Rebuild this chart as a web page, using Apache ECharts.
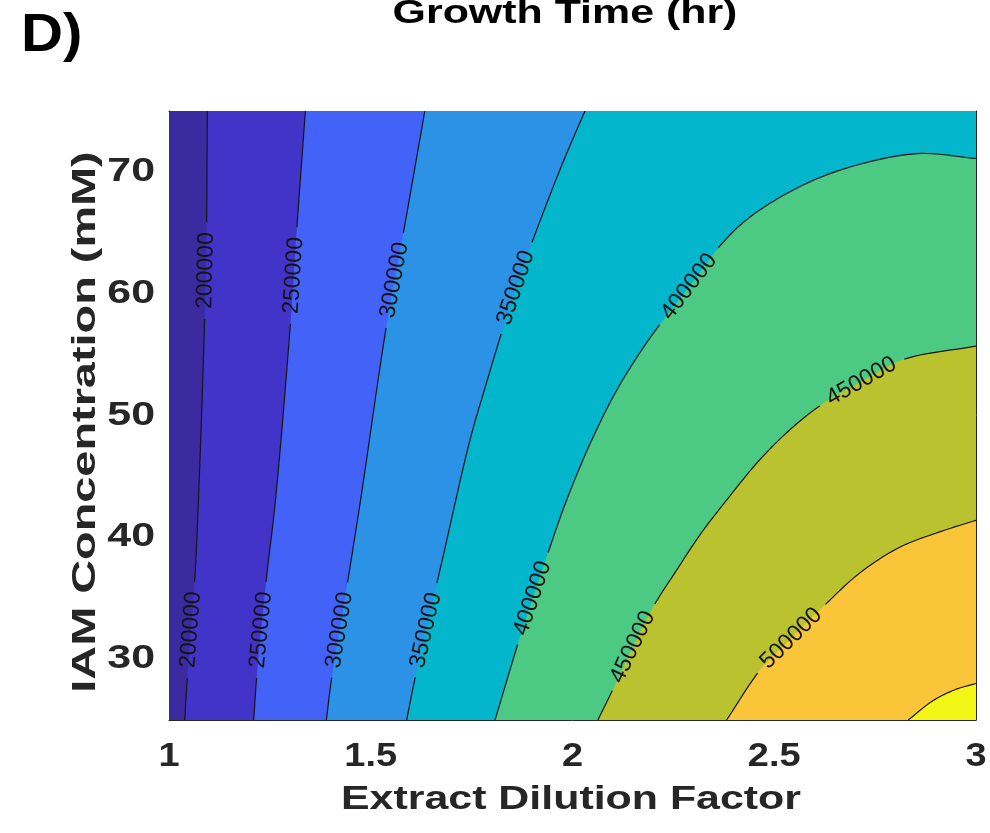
<!DOCTYPE html>
<html>
<head>
<meta charset="utf-8">
<title>Growth Time (hr)</title>
<script src="https://cdn.jsdelivr.net/npm/echarts@6/dist/echarts.min.js"></script>
<style>
  html, body { margin: 0; padding: 0; background: #ffffff; }
  #chart { width: 990px; height: 833px; }
</style>
</head>
<body>
<div id="chart"></div>
<script>
// ---- data ---------------------------------------------------------------
const xTicks = [1, 1.5, 2, 2.5, 3];
const yTicks = [30, 40, 50, 60, 70];
const levels = [200000, 250000, 300000, 350000, 400000, 450000, 500000, 550000];

// iso-lines as [dilution factor, IAM mM] points
const iso200k = [[1.095, 75], [1.093, 65.5], [1.088, 57.6], [1.073, 43.1], [1.065, 37.2], [1.045, 28.3], [1.039, 25]];
const iso250k = [[1.338, 75], [1.316, 65.0], [1.301, 57.6], [1.264, 43.1], [1.241, 36.5], [1.217, 28.4], [1.210, 25]];
const iso300k = [[1.634, 75], [1.582, 65.2], [1.540, 57.6], [1.475, 43.1], [1.442, 36.2], [1.403, 28.4], [1.390, 25]];
const iso350k = [[2.031, 75], [1.979, 71.0], [1.921, 66.1], [1.867, 61.2], [1.828, 57.2], [1.787, 52.7],
                 [1.746, 48.0], [1.679, 38.4], [1.609, 28.3], [1.589, 25]];
const iso400k = [[1.808, 25], [1.868, 31.6], [1.933, 38.1], [1.986, 43.1], [2.048, 48.0], [2.110, 52.1],
                 [2.180, 55.8], [2.224, 57.8], [2.301, 61.1], [2.370, 64.1], [2.440, 66.3], [2.564, 68.8],
                 [2.688, 70.4], [2.854, 71.5], [3, 71.1]];
const iso450k = [[2.063, 25], [2.100, 27.5], [2.195, 34.0], [2.258, 37.3], [2.318, 40.3], [2.383, 43.1],
                 [2.465, 46.4], [2.548, 49.1], [2.622, 51.0], [2.716, 52.8], [2.820, 54.6], [3, 55.7]];
const iso500k = [[2.382, 25], [2.465, 29.1], [2.542, 31.7], [2.621, 34.3], [2.713, 37.1], [2.812, 39.2],
                 [2.906, 40.4], [3, 41.4]];
const iso550k = [[2.832, 25], [2.894, 26.6], [2.949, 27.5], [3, 28.0]];

// where each iso-line carries its inline value label: [level, x, y]
const labelSpots = [
  [200000, 1.091, 61.9], [200000, 1.055, 32.4],
  [250000, 1.307, 61.5], [250000, 1.228, 32.4],
  [300000, 1.560, 61.1], [300000, 1.421, 32.4],
  [350000, 1.867, 60.4], [350000, 1.634, 32.4],
  [400000, 2.296, 60.4], [400000, 1.909, 34.9],
  [450000, 2.716, 52.8], [450000, 2.155, 30.9],
  [500000, 2.542, 31.7]
];

// ---- styling ------------------------------------------------------------
const bandColors = ['#3c2aa0', '#4334c9', '#4362f7', '#2c92e6', '#03b6cb', '#4cc983', '#bbc22f', '#fbc53a', '#f3f614'];
const contours = [iso200k, iso250k, iso300k, iso350k, iso400k, iso450k, iso500k, iso550k];
const X_MIN = 1, X_MAX = 3, Y_MIN = 25, Y_MAX = 75;
const AXIS_COLOR = '#262626';
const BOLD_FONT = 'bold 33px "Liberation Sans", Arial, sans-serif';
const LABEL_FONT = '23px "Liberation Sans", Arial, sans-serif';

const measureCtx = document.createElement('canvas').getContext('2d');
function textWidth(t, font) { measureCtx.font = font; return measureCtx.measureText(t).width; }

// corners that close the region above a level along the high-value side of the domain
function closingCorners(pts) {
  return pts[0][1] === Y_MAX ? [[X_MAX, Y_MIN], [X_MAX, Y_MAX]] : [[X_MAX, Y_MIN]];
}

// ---- pixel-space curve helpers ------------------------------------------
// centripetal Catmull-Rom through the points, drawn as a smooth curve
function smoothPath(px, steps) {
  if (px.length < 3) return px.slice();
  const out = [px[0]];
  const lerp = (a, b, ta, tb, t) => {
    const d = (tb - ta) || 1e-6;
    return [((tb - t) * a[0] + (t - ta) * b[0]) / d, ((tb - t) * a[1] + (t - ta) * b[1]) / d];
  };
  for (let i = 0; i < px.length - 1; i++) {
    const p1 = px[i], p2 = px[i + 1];
    const p0 = i > 0 ? px[i - 1] : [2 * p1[0] - p2[0], 2 * p1[1] - p2[1]];
    const p3 = i + 2 < px.length ? px[i + 2] : [2 * p2[0] - p1[0], 2 * p2[1] - p1[1]];
    const k = (a, b) => Math.max(Math.sqrt(Math.hypot(b[0] - a[0], b[1] - a[1])), 1e-4);
    const t0 = 0, t1 = t0 + k(p0, p1), t2 = t1 + k(p1, p2), t3 = t2 + k(p2, p3);
    for (let s = 1; s <= steps; s++) {
      const t = t1 + (t2 - t1) * s / steps;
      const A1 = lerp(p0, p1, t0, t1, t), A2 = lerp(p1, p2, t1, t2, t), A3 = lerp(p2, p3, t2, t3, t);
      const B1 = lerp(A1, A2, t0, t2, t), B2 = lerp(A2, A3, t1, t3, t);
      out.push(lerp(B1, B2, t1, t2, t));
    }
  }
  return out;
}
function curvePixels(api, idx) {
  return smoothPath(contours[idx].map(p => api.coord(p)), 12);
}
function cumulative(px) {
  const c = [0];
  for (let i = 1; i < px.length; i++) c.push(c[i - 1] + Math.hypot(px[i][0] - px[i - 1][0], px[i][1] - px[i - 1][1]));
  return c;
}
function project(px, cum, q) {
  let best = null;
  for (let i = 0; i < px.length - 1; i++) {
    const a = px[i], b = px[i + 1];
    const dx = b[0] - a[0], dy = b[1] - a[1];
    const L2 = dx * dx + dy * dy || 1;
    let t = ((q[0] - a[0]) * dx + (q[1] - a[1]) * dy) / L2;
    t = Math.max(0, Math.min(1, t));
    const p = [a[0] + t * dx, a[1] + t * dy];
    const d = Math.hypot(p[0] - q[0], p[1] - q[1]);
    if (!best || d < best.d) best = { d, pt: p, s: cum[i] + t * Math.sqrt(L2) };
  }
  return best;
}
function pointAt(px, cum, s) {
  s = Math.max(0, Math.min(cum[cum.length - 1], s));
  for (let i = 0; i < px.length - 1; i++) {
    if (s <= cum[i + 1]) {
      const seg = cum[i + 1] - cum[i] || 1;
      const t = (s - cum[i]) / seg;
      return [px[i][0] + t * (px[i + 1][0] - px[i][0]), px[i][1] + t * (px[i + 1][1] - px[i][1])];
    }
  }
  return px[px.length - 1];
}
// break the curve wherever it runs under a label
function clipOut(px, circles) {
  const out = [];
  let cur = [];
  const inside = p => circles.some(c => Math.hypot(p[0] - c.pt[0], p[1] - c.pt[1]) < c.r);
  for (let i = 0; i < px.length - 1; i++) {
    const A = px[i], B = px[i + 1];
    const d = [B[0] - A[0], B[1] - A[1]];
    const ts = [0, 1];
    circles.forEach(c => {
      const f = [A[0] - c.pt[0], A[1] - c.pt[1]];
      const a = d[0] * d[0] + d[1] * d[1];
      const b = 2 * (f[0] * d[0] + f[1] * d[1]);
      const cc = f[0] * f[0] + f[1] * f[1] - c.r * c.r;
      const disc = b * b - 4 * a * cc;
      if (disc > 0 && a > 0) {
        const sq = Math.sqrt(disc);
        [(-b - sq) / (2 * a), (-b + sq) / (2 * a)].forEach(t => { if (t > 0 && t < 1) ts.push(t); });
      }
    });
    ts.sort((m, n) => m - n);
    for (let k = 0; k < ts.length - 1; k++) {
      const t0 = ts[k], t1 = ts[k + 1];
      if (t1 - t0 < 1e-9) continue;
      const tm = (t0 + t1) / 2;
      const mid = [A[0] + tm * d[0], A[1] + tm * d[1]];
      const P0 = [A[0] + t0 * d[0], A[1] + t0 * d[1]];
      const P1 = [A[0] + t1 * d[0], A[1] + t1 * d[1]];
      if (!inside(mid)) {
        if (!cur.length) cur = [P0, P1];
        else {
          const last = cur[cur.length - 1];
          if (Math.hypot(last[0] - P0[0], last[1] - P0[1]) < 1e-6) cur.push(P1);
          else { out.push(cur); cur = [P0, P1]; }
        }
      } else if (cur.length) { out.push(cur); cur = []; }
    }
  }
  if (cur.length) out.push(cur);
  return out;
}
function labelGeometry(api, idx, px) {
  const cum = cumulative(px);
  const text = String(levels[idx]);
  return labelSpots.filter(s => s[0] === levels[idx]).map(s => {
    const pr = project(px, cum, api.coord([s[1], s[2]]));
    const a = pointAt(px, cum, pr.s - 25), b = pointAt(px, cum, pr.s + 25);
    let ang = Math.atan2(-(b[1] - a[1]), b[0] - a[0]);
    if (ang > Math.PI / 2) ang -= Math.PI;
    if (ang <= -Math.PI / 2) ang += Math.PI;
    return { pt: pr.pt, angle: ang, r: textWidth(text, LABEL_FONT) / 2 + 10, text };
  });
}

// ---- chart --------------------------------------------------------------
const chart = echarts.init(document.getElementById('chart'), null, { renderer: 'canvas' });

const tickStyle = { show: true, inside: true, length: 9, lineStyle: { color: AXIS_COLOR, width: 1 } };
const lineStyle = { show: true, onZero: false, lineStyle: { color: AXIS_COLOR, width: 1 } };

function xAxisDef(pos) {
  return { type: 'value', position: pos, min: X_MIN, max: X_MAX, interval: 0.5,
    axisLine: lineStyle, axisTick: tickStyle, axisLabel: { show: false }, splitLine: { show: false } };
}
function yAxisDef(pos) {
  return { type: 'value', position: pos, min: Y_MIN, max: Y_MAX,
    axisLine: lineStyle, axisTick: Object.assign({ customValues: yTicks }, tickStyle),
    axisLabel: { show: false, customValues: yTicks }, splitLine: { show: false } };
}

const option = {
  backgroundColor: '#ffffff',
  animation: false,
  grid: { left: 169, right: 14, top: 111, bottom: 113, containLabel: false, outerBoundsMode: 'none' },
  xAxis: [xAxisDef('bottom'), xAxisDef('top')],
  yAxis: [yAxisDef('left'), yAxisDef('right')],
  graphic: [
    { type: 'text', x: 21, y: 36, scaleX: 1.1, silent: true,
      style: { text: 'D)', font: 'bold 53px "Liberation Sans", Arial, sans-serif', fill: '#000', align: 'left', verticalAlign: 'middle' } },
    { type: 'text', x: 565, y: 14, scaleX: 1.3, silent: true,
      style: { text: 'Growth Time (hr)', font: BOLD_FONT, fill: '#000', align: 'center', verticalAlign: 'middle' } },
    { type: 'text', x: 571, y: 800, scaleX: 1.3, silent: true,
      style: { text: 'Extract Dilution Factor', font: BOLD_FONT, fill: AXIS_COLOR, align: 'center', verticalAlign: 'middle' } },
    { type: 'text', x: 86, y: 422, rotation: Math.PI / 2, scaleX: 1.42, silent: true,
      style: { text: 'IAM Concentration (mM)', font: BOLD_FONT, fill: AXIS_COLOR, align: 'center', verticalAlign: 'middle' } }
  ],
  series: [
    { // filled bands
      type: 'custom', coordinateSystem: 'cartesian2d', silent: true, clip: true, z: 1,
      data: bandColors.map((c, i) => [X_MIN, Y_MIN, i]),
      renderItem: (params, api) => {
        const i = api.value(2);
        const pts = i === 0
          ? [[X_MIN, Y_MIN], [X_MAX, Y_MIN], [X_MAX, Y_MAX], [X_MIN, Y_MAX]].map(p => api.coord(p))
          : curvePixels(api, i - 1).concat(closingCorners(contours[i - 1]).map(p => api.coord(p)));
        return { type: 'polygon', shape: { points: pts }, style: { fill: bandColors[i] } };
      }
    },
    { // iso-lines with inline labels
      type: 'custom', coordinateSystem: 'cartesian2d', silent: true, clip: true, z: 2,
      data: contours.map((c, i) => [X_MIN, Y_MIN, i]),
      renderItem: (params, api) => {
        const idx = api.value(2);
        const px = curvePixels(api, idx);
        const labels = labelGeometry(api, idx, px);
        const children = clipOut(px, labels).map(pc => ({
          type: 'polyline', shape: { points: pc }, style: { fill: null, stroke: '#161616', lineWidth: 1.2 }
        }));
        labels.forEach(l => children.push({
          type: 'text', x: l.pt[0], y: l.pt[1], rotation: l.angle,
          style: { text: l.text, font: LABEL_FONT, fill: '#141414', align: 'center', verticalAlign: 'middle' }
        }));
        return { type: 'group', children };
      }
    },
    { // x tick labels
      type: 'custom', coordinateSystem: 'cartesian2d', silent: true, z: 3,
      data: xTicks.map(v => [v, Y_MIN]),
      renderItem: (params, api) => {
        const p = api.coord([api.value(0), api.value(1)]);
        return { type: 'text', x: p[0], y: p[1] + 37, scaleX: 1.15,
          style: { text: String(api.value(0)), font: BOLD_FONT, fill: AXIS_COLOR, align: 'center', verticalAlign: 'middle' } };
      }
    },
    { // y tick labels
      type: 'custom', coordinateSystem: 'cartesian2d', silent: true, z: 3,
      data: yTicks.map(v => [X_MIN, v]),
      renderItem: (params, api) => {
        const p = api.coord([api.value(0), api.value(1)]);
        return { type: 'text', x: p[0] - 14, y: p[1], scaleX: 1.3,
          style: { text: String(api.value(1)), font: BOLD_FONT, fill: AXIS_COLOR, align: 'right', verticalAlign: 'middle' } };
      }
    }
  ]
};

chart.setOption(option);
</script>
</body>
</html>
